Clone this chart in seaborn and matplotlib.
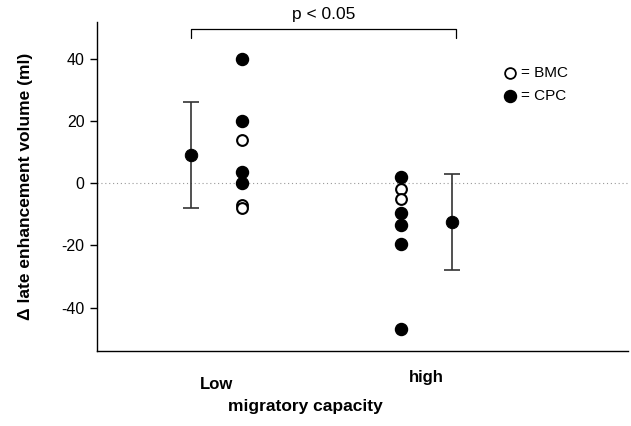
import matplotlib
matplotlib.use("Agg")
import matplotlib.pyplot as plt
import matplotlib.transforms as mtransforms
import seaborn as sns
import pandas as pd
import numpy as np

# ---- data ----
groups = ["Low", "high"]
low_cpc = [40, 20, 3.5, 0]
low_bmc = [14, -7, -8]
high_cpc = [2, -9.6, -13.5, -19.5, -47]
high_bmc = [-1.8, -5]
means = [9, -12.5]
err_upper = [26, 3]
err_lower = [-8, -28]
yticks = [-40, -20, 0, 20, 40]

sns.set_theme(style="white")
plt.rcParams['font.family'] = ['Liberation Sans', 'DejaVu Sans']
plt.rcParams['text.color'] = 'black'
plt.rcParams['axes.labelcolor'] = 'black'
plt.rcParams['xtick.color'] = 'black'
plt.rcParams['ytick.color'] = 'black'

fig = plt.figure(figsize=(6.31, 4.26), dpi=100)
ax = fig.add_axes([0.1537, 0.176, 0.8413, 0.772])

dot_off = 0.12
mean_off = -0.12
rows = []
for gi, (cpc, bmc) in enumerate([(low_cpc, low_bmc), (high_cpc, high_bmc)]):
    sign = 1 if gi == 0 else -1
    for v in cpc:
        rows.append({"x": gi + sign * dot_off, "y": v, "cell": "CPC"})
    for v in bmc:
        rows.append({"x": gi + sign * dot_off, "y": v, "cell": "BMC"})
df = pd.DataFrame(rows)

# zero line
ax.axhline(0, color="#999999", lw=0.8, ls=(0, (1, 2.5)), zorder=0)

sns.scatterplot(data=df[df.cell == "CPC"], x="x", y="y", ax=ax, s=75,
                color="black", edgecolor="black", linewidth=1, legend=False, zorder=3)
sns.scatterplot(data=df[df.cell == "BMC"], x="x", y="y", ax=ax, s=60,
                color="white", edgecolor="black", linewidth=1.5, legend=False, zorder=4)

mx = [0 + mean_off, 1 - mean_off]
mdf = pd.DataFrame({"x": mx, "y": means})
for i in range(2):
    ax.errorbar(mx[i], means[i],
                yerr=[[means[i] - err_lower[i]], [err_upper[i] - means[i]]],
                fmt="none", ecolor="#333333", elinewidth=1.2, capsize=6, capthick=1.2, zorder=2)
sns.scatterplot(data=mdf, x="x", y="y", ax=ax, s=80, color="black",
                edgecolor="black", legend=False, zorder=3)

ax.set_xlim(-0.57, 1.96)
ax.set_ylim(-54, 51.8)
ax.set_yticks(yticks)
ax.set_yticklabels([str(t) for t in yticks], fontsize=11.5)
ax.set_xticks([0, 1])
ax.set_xticklabels(groups, fontsize=12, fontweight="bold")
ax.tick_params(axis="x", length=0, pad=19)
ax.tick_params(axis="y", direction="out", length=5, width=1, color="black", left=True, pad=4)

# "high" label sits a bit higher in the reference
xl = ax.get_xticklabels()
xl[1].set_transform(xl[1].get_transform() +
                    mtransforms.ScaledTranslation(0, 7 / 100, fig.dpi_scale_trans))

for side in ["top", "right"]:
    ax.spines[side].set_visible(False)
for side in ["left", "bottom"]:
    ax.spines[side].set_color("black")
    ax.spines[side].set_linewidth(1)

ax.set_ylabel("Δ late enhancement volume (ml)", fontsize=12.5, fontweight="bold", labelpad=20)
ax.set_xlabel("migratory capacity", fontsize=12.5, fontweight="bold")
ax.xaxis.set_label_coords(0.393, -0.147)

# significance bracket
bx0, bx1, by = -0.12, 1.14, 49.5
ax.plot([bx0, bx0, bx1, bx1], [by - 2.8, by, by, by - 2.8], color="black", lw=0.9, clip_on=False)
ax.text((bx0 + bx1) / 2, by + 2.3, "p < 0.05", ha="center", va="bottom", fontsize=12.5, clip_on=False)

# legend
ax.scatter([1.4], [35.5], s=60, facecolor="white", edgecolor="black", linewidth=1.3, zorder=5)
ax.scatter([1.4], [28], s=75, facecolor="black", edgecolor="black", zorder=5)
ax.text(1.45, 35.5, "= BMC", va="center", fontsize=11)
ax.text(1.45, 28, "= CPC", va="center", fontsize=11)

ax.set_facecolor("white")
fig.patch.set_facecolor("white")
fig.savefig("out.png", dpi=100)
